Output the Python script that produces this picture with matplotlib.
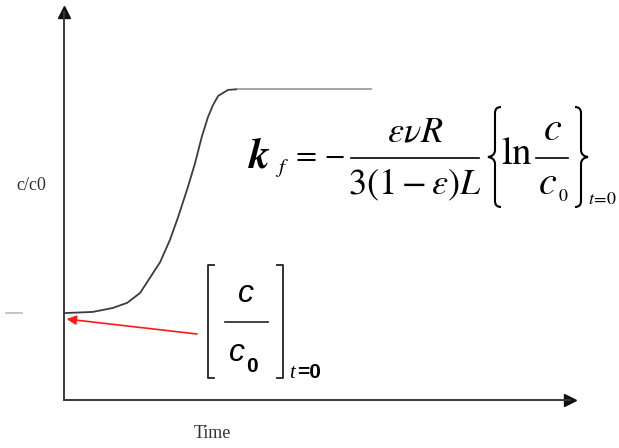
import matplotlib
matplotlib.use("Agg")
import matplotlib.pyplot as plt
from matplotlib.path import Path
from matplotlib.patches import PathPatch

plt.rcParams['mathtext.fontset'] = 'stix'

# breakthrough curve, c/c0 against time (arbitrary units)
time = [0.0, 0.56, 0.95, 1.23, 1.48, 1.67, 1.87, 2.06, 2.22, 2.41,
        2.55, 2.68, 2.80, 2.90, 3.00, 3.19, 3.39]
c_c0 = [0.220, 0.223, 0.233, 0.246, 0.271, 0.309, 0.349, 0.405, 0.463, 0.539,
        0.600, 0.666, 0.716, 0.747, 0.770, 0.785, 0.787]
# flat part after saturation
plateau_time = [3.39, 5.97]
plateau_c = [0.787, 0.787]

W, H = 619, 448
fig = plt.figure(figsize=(W / 100, H / 100), dpi=100)

def px(x0, y0, x1, y1):
    return [x0 / W, 1 - y1 / H, (x1 - x0) / W, (y1 - y0) / H]

ax = fig.add_axes(px(64, 12, 570, 400))
ax.set_xlim(0, (570 - 64) / 514 * 10)
ax.set_ylim(0, (400 - 12) / 395)
for s in ['top', 'right']:
    ax.spines[s].set_visible(False)
for s in ['left', 'bottom']:
    ax.spines[s].set_color('#3a3a3a')
    ax.spines[s].set_linewidth(1.4)
ax.set_xticks([])
ax.set_yticks([])
ax.plot([1], [0], marker='>', ms=9, color='#111111', transform=ax.transAxes, clip_on=False)
ax.plot([0], [1], marker='^', ms=9, color='#111111', transform=ax.transAxes, clip_on=False)

ax.plot(time, c_c0, color='#3c3c3c', lw=1.3, solid_capstyle='butt')
ax.plot(plateau_time, plateau_c, color='#a8a8a8', lw=1.5)
# short mark at the initial level, left of the axis
ax.plot([-1.13, -0.82], [c_c0[0], c_c0[0]], color='#bbbbbb', lw=1.2, clip_on=False)

# overlay in pixel units for the annotations
ov = fig.add_axes([0, 0, 1, 1], facecolor='none')
ov.set_xlim(0, W)
ov.set_ylim(H, 0)
ov.axis('off')

ov.text(31, 186, 'c/c0', family='Liberation Serif', fontsize=13, color='#333333',
        ha='center', va='center')
ov.text(212, 433, 'Time', family='Liberation Serif', fontsize=13, color='#333333',
        ha='center', va='center')


def brace(x_hook, x_stem, x_tip, y0, y1):
    ym = (y0 + y1) / 2
    verts = [(x_hook, y0), (x_stem, y0), (x_stem, y0 + 6),
             (x_stem, ym - 7), (x_stem, ym - 1), (x_tip, ym),
             (x_stem, ym + 1), (x_stem, ym + 7),
             (x_stem, y1 - 6), (x_stem, y1), (x_hook, y1)]
    codes = [Path.MOVETO, Path.CURVE3, Path.CURVE3,
             Path.LINETO, Path.CURVE3, Path.CURVE3,
             Path.CURVE3, Path.CURVE3,
             Path.LINETO, Path.CURVE3, Path.CURVE3]
    ov.add_patch(PathPatch(Path(verts, codes), fill=False, lw=1.5, ec='black'))


# k_f = - eps v R / (3(1-eps)L) {ln c/c0}_{t=0}
ov.text(248, 167, r'$\boldsymbol{k}$', fontsize=30, ha='left', va='baseline')
ov.text(275, 173, r'$f$', fontsize=15, ha='left', va='baseline')
ov.text(296, 165, '= \u2212', family='STIXGeneral', fontsize=22,
        ha='left', va='baseline')
ov.text(415, 142, r'$\varepsilon\nu R$', fontsize=26, ha='center', va='baseline')
ov.plot([351, 479], [158, 158], color='black', lw=1.2)
ov.text(415, 194, r'$3(1-\varepsilon)L$', fontsize=26, ha='center', va='baseline')
brace(501, 495, 488, 107, 207)
ov.text(501, 164, r'$\ln$', fontsize=28, ha='left', va='baseline')
ov.plot([536, 568], [158, 158], color='black', lw=1.2)
ov.text(553, 140, r'$c$', fontsize=29, ha='center', va='baseline')
ov.text(548, 194, r'$c$', fontsize=29, ha='center', va='baseline')
ov.text(559, 201, '0', family='STIXGeneral', fontsize=13, ha='left', va='baseline')
brace(575, 581, 588, 107, 207)
ov.text(588, 204, r'$t\!=\!0$', fontsize=13, ha='left', va='baseline')

# [c / c0] at t = 0
ov.plot([214, 208, 208, 214], [265, 265, 378, 378], color='#222222', lw=1.3)
ov.plot([277, 283, 283, 277], [265, 265, 378, 378], color='#222222', lw=1.3)
ov.plot([225, 268], [322, 322], color='#222222', lw=1.2)
ov.text(246, 294, 'c', family='Liberation Sans', style='italic', fontsize=23,
        ha='center', va='center')
ov.text(237, 353, 'c', family='Liberation Sans', style='italic', fontsize=23,
        ha='center', va='center')
ov.text(246, 366, '0', family='Liberation Sans', weight='bold', fontsize=15,
        ha='left', va='center')
ov.text(289, 373, 't', family='Liberation Serif', style='italic', fontsize=15,
        ha='left', va='center')
ov.text(297, 373, '=0', family='Liberation Sans', weight='bold', fontsize=15,
        ha='left', va='center')

ax.annotate('', xy=(0.05, c_c0[0] - 0.015), xycoords='data',
            xytext=(197, 334), textcoords=ov.transData,
            arrowprops=dict(arrowstyle='-|>', color='#ff1a1a', lw=1.2,
                            mutation_scale=14, shrinkA=0, shrinkB=0))

fig.savefig('out.png', dpi=100)
